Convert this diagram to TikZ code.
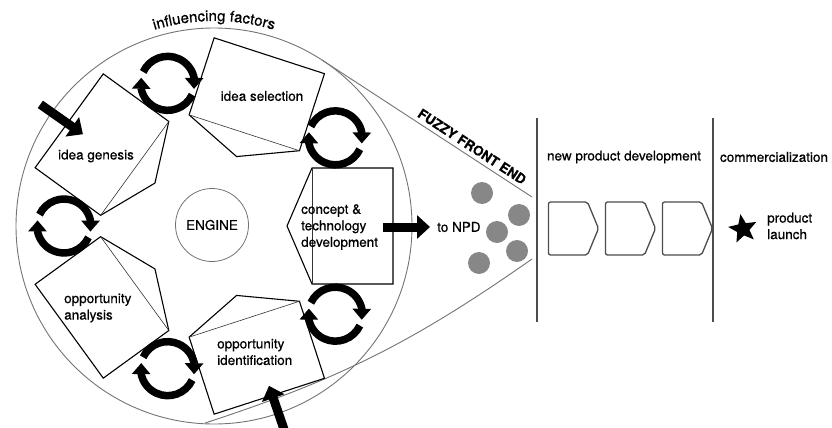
\documentclass[tikz,border=0pt]{standalone}
\usepackage{fontspec}
\setmainfont{TeX Gyre Heros}[FakeBold=0.6]
\usetikzlibrary{shapes,arrows.meta,bending,positioning,calc,decorations.text}
\newcommand{\figfont}{\fontsize{13.5}{16.5}\selectfont}

\begin{document}
\begin{tikzpicture}[x=1pt,y=1pt,every node/.style={font=\figfont,inner sep=0pt},
  stage/.style={draw=black,line width=1.1pt,fill=white},
  stageedge/.style={draw=black!80,line width=0.6pt},
  cyclearrow/.style={line width=7.5pt,-{Triangle[width=18pt,length=11pt]}},
  feed/.style={line width=9pt,-{Triangle[width=23pt,length=13pt]}},
  coneline/.style={draw=black!55,line width=0.9pt},
  divider/.style={draw=black!70,line width=1.4pt},
  npdstep/.style={signal,signal to=east,signal pointer angle=135,draw=black!70,line width=1.3pt,
    minimum width=50pt,minimum height=53pt,rounded corners=2pt}]

\useasboundingbox (0,0) rectangle (832,-428);

% Front end circle
\node[circle,draw=black!55,line width=0.9pt,minimum size=396pt] (ring) at (214,-226) {};
\path[decorate,decoration={text along path,text align=center,
    text={|\fontsize{15}{18}\selectfont|influencing factors}}]
  ($(ring.center)+(150:205)$) arc (150:30:205);

% Cone towards NPD
\coordinate (conetop) at (322,-60);
\coordinate (conetopend) at (532,-197);
\coordinate (conebot) at (205,-423);
\coordinate (conebotend) at (532,-259);
\draw[coneline] (conetop) -- (conetopend)
  node[pos=0.69,sloped,above=4pt,font=\figfont\bfseries] (ffe) {FUZZY FRONT END};
\draw[coneline] (conebotend) to[out=215,in=18] (conebot);

% Stages
\foreach \ang in {144,72,0,-72,-144}{
  \begin{scope}[shift={(ring.center)},rotate=\ang]
    \draw[stage] (98,-58) -- (179,-58) -- (179,58) -- (98,58) -- (73,0) -- cycle;
    \draw[stageedge] (98,-58) -- (98,58);
  \end{scope}
}

\node[circle,draw=black!55,line width=0.8pt,minimum size=73pt] (engine) at (212,-225) {ENGINE};

\node (genesis) at (96,-156) {idea genesis};
\node (selection) at (262,-96) {idea selection};
\node[anchor=west,align=left] (concept) at (301,-227) {concept \&\\technology\\development};
\node[anchor=west,align=left] (analysis) at (64,-308) {opportunity\\analysis};
\node[anchor=west,align=left] (identification) at (217,-352) {opportunity\\identification};

% Iterations between stages
\foreach \ang in {36,108,180,252,324}{
  \coordinate (cyc) at ($(ring.center)+(\ang:150)$);
  \draw[cyclearrow] ($(cyc)+(155:27)$) arc (155:-12:27);
  \draw[cyclearrow] ($(cyc)+(-25:27)$) arc (-25:-192:27);
}

% Inputs and output
\coordinate (genesisin) at ($(ring.center)+(145:212)$);
\coordinate (genesistip) at ($(ring.center)+(145:160)$);
\draw[feed] (genesisin) -- (genesistip);
\coordinate (identin) at ($(ring.center)+(-71:218)$);
\coordinate (identtip) at ($(ring.center)+(-71:169)$);
\draw[feed] (identin) -- (identtip);

\node[anchor=west] (tonpd) at (437,-227) {to NPD};
\draw[feed] ([xshift=5pt]concept.east) -- ([xshift=-7pt]tonpd.west);

% Ideas waiting
\foreach \x/\y in {482/-193,519/-215,497/-232,517/-251,479/-263}
  \fill[black!47] (\x,\y) circle (11);

% NPD and commercialization
\draw[divider] (537,-118) -- (537,-322);
\draw[divider] (713,-118) -- (713,-322);
\node (npd) at (624,-157) {new product development};
\node (comm) at (774,-157) {commercialization};

\foreach \i/\x in {1/568,2/625,3/682}
  \node[npdstep] (step\i) at (\x,-228.5) {};

\node[star,star points=5,star point ratio=2.3,fill=black,minimum size=30pt,rotate=10] (launch) at (743,-229) {};
\node[anchor=west,align=left] (prodlaunch) at (767,-226) {product\\launch};

\end{tikzpicture}
\end{document}
